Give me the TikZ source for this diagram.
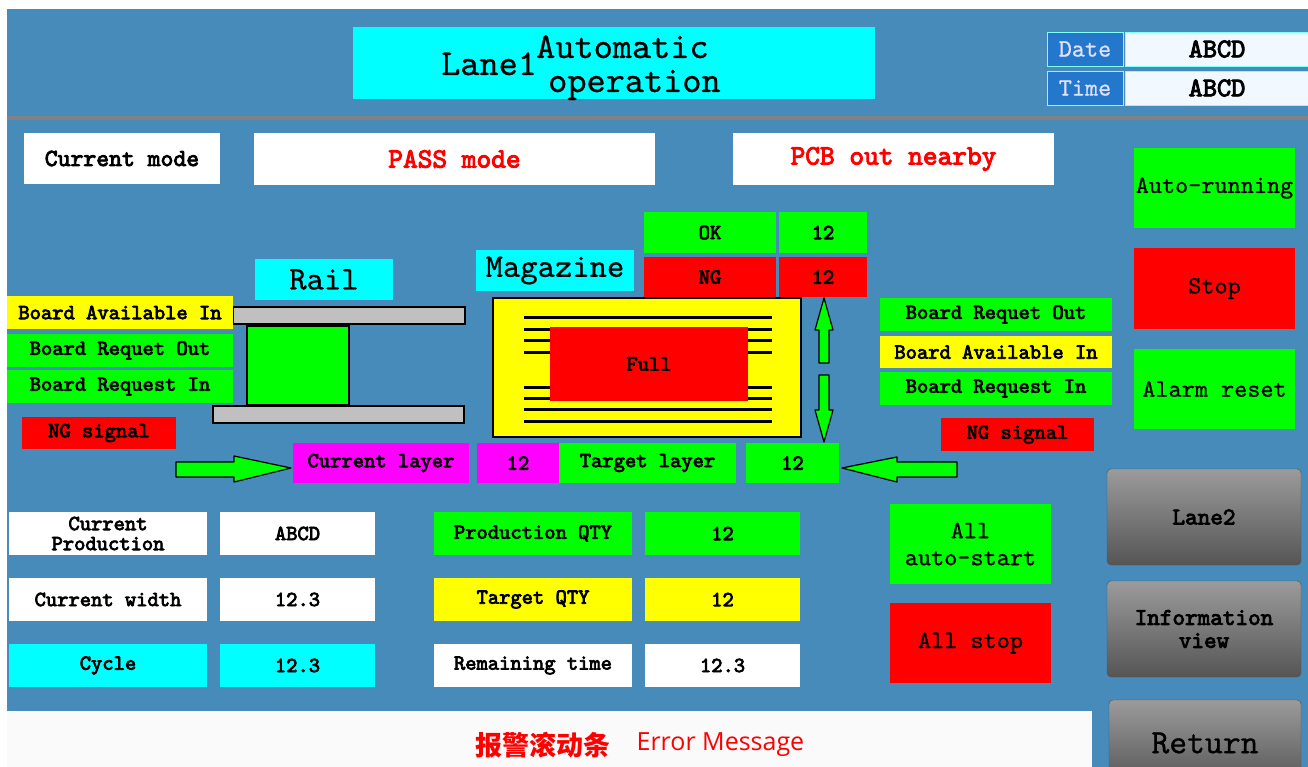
\documentclass[tikz,border=0pt]{standalone}
\usepackage{fontspec}
\newfontfamily\cjkfont{Noto Sans CJK SC}
\newfontfamily\msgfont{Open Sans}
\newfontfamily\hmibold{lmmono10-regular.otf}[FakeBold=3.5]
\newfontfamily\hmithin{lmmono10-regular.otf}[FakeBold=0.7]
\usetikzlibrary{positioning}

\definecolor{hmibg}{RGB}{70,139,185}
\definecolor{hmicyan}{RGB}{0,255,255}
\definecolor{hmigreen}{RGB}{0,255,0}
\definecolor{hmired}{RGB}{255,0,0}
\definecolor{hmiyellow}{RGB}{255,255,0}
\definecolor{hmimagenta}{RGB}{255,0,255}
\definecolor{railgray}{RGB}{192,192,192}
\definecolor{sepgray}{RGB}{130,130,130}
\definecolor{datablue}{RGB}{36,120,204}
\definecolor{valwhite}{RGB}{242,248,255}
\definecolor{errwhite}{RGB}{250,250,250}
\definecolor{btntop}{RGB}{155,155,155}
\definecolor{btnbot}{RGB}{85,85,85}

\newcommand{\lblfont}{\hmibold\fontsize{21.5}{20}\selectfont}
\newcommand{\modefont}{\hmibold\fontsize{24.5}{26}\selectfont}
\newcommand{\redfont}{\hmibold\fontsize{28}{30}\selectfont}
\newcommand{\btnfont}{\hmithin\fontsize{25}{27}\selectfont}
\newcommand{\abcdfont}{\hmibold\fontsize{27}{28}\selectfont}
\newcommand{\titlefont}{\hmithin\fontsize{36.5}{38}\selectfont}
\newcommand{\bigfont}{\hmithin\fontsize{33}{34}\selectfont}
\newcommand{\lanefont}{\hmibold\fontsize{24}{23}\selectfont}
\newcommand{\retfont}{\hmithin\fontsize{34}{34}\selectfont}

\begin{document}
\begin{tikzpicture}[x=1pt, y=-1pt,
    cell/.style={anchor=north west, inner sep=0pt, outer sep=0pt, text=black},
    wh/.style 2 args={minimum width=#1pt, minimum height=#2pt},
    rail/.style={fill=railgray, draw=black, line width=1.5pt},
    blockarrow/.style={fill=hmigreen, draw=black, line width=1.2pt, line join=round},
    greybtn/.style={cell, rounded corners=4pt, top color=btntop, bottom color=btnbot, draw=btnbot}]

    \useasboundingbox (0,0) rectangle (1308,767);
    \clip (0,0) rectangle (1308,767);

    % sfondo
    \fill[white] (0,0) rectangle (1308,767);
    \fill[hmibg] (7,9) rectangle (1308,767);
    \fill[sepgray] (7,116) rectangle (1308,120);

    % titolo
    \node[cell, wh={522}{72}, fill=hmicyan] (title) at (353,27) {};
    \node[anchor=base west, inner sep=0pt, font=\titlefont] (lane) at (441,75) {Lane1};
    \node[anchor=base west, inner sep=0pt, font=\titlefont] (auto) at (536,58) {Automatic};
    \node[anchor=base west, inner sep=0pt, font=\titlefont] (oper) at (548,92) {operation};

    \node[cell, wh={76}{34}, fill=datablue, draw=hmicyan!50!white, text=white!88!blue, font=\btnfont] (date) at (1047,32) {Date};
    \node[cell, wh={184}{34}, fill=valwhite, draw=hmicyan!50!white, font=\abcdfont, right=2pt of date] (dateval) {ABCD};
    \node[cell, wh={76}{34}, fill=datablue, draw=hmicyan!50!white, text=white!88!blue, font=\btnfont, below=5pt of date] (time) {Time};
    \node[cell, wh={184}{34}, fill=valwhite, draw=hmicyan!50!white, font=\abcdfont, right=2pt of time] (timeval) {ABCD};

    % modo
    \node[cell, wh={196}{51}, fill=white, font=\modefont] (mode) at (24,133) {Current mode};
    \node[cell, wh={401}{52}, fill=white, text=hmired, font=\redfont] (pass) at (254,133) {PASS mode};
    \node[cell, wh={321}{52}, fill=white, text=hmired, font=\redfont] (pcb) at (733,133) {PCB out nearby};

    \node[cell, wh={161}{80}, fill=hmigreen, font=\btnfont] (autorun) at (1134,148) {Auto-running};
    \node[cell, wh={161}{81}, fill=hmired, font=\btnfont, below=20pt of autorun] (stop) {Stop};
    \node[cell, wh={161}{80}, fill=hmigreen, font=\btnfont, below=20pt of stop] (reset) {Alarm reset};

    % binario e magazzino
    \node[cell, wh={138}{41}, fill=hmicyan, font=\bigfont] (raillbl) at (255,259) {Rail};
    \node[cell, wh={158}{41}, fill=hmicyan, font=\bigfont] (maglbl) at (476,250) {Magazine};

    \node[cell, wh={132}{41}, fill=hmigreen, font=\lblfont] (ok) at (644,212) {OK};
    \node[cell, wh={88}{41}, fill=hmigreen, font=\lblfont, right=3pt of ok] (okn) {12};
    \node[cell, wh={132}{40}, fill=hmired, font=\lblfont, below=4pt of ok] (ng) {NG};
    \node[cell, wh={88}{40}, fill=hmired, font=\lblfont, right=3pt of ng] (ngn) {12};

    \node[cell, wh={308}{139}, fill=hmiyellow, draw=black, line width=1.5pt] (mag) at (493,298) {};
    \foreach \y in {317,329,340,352,387,398,409,421}
        \draw[line width=3pt] (524,\y) -- (772,\y);
    \node[cell, wh={198}{74}, fill=hmired, font=\lblfont] (full) at (550,327) {Full};

    \draw[blockarrow] (824,298) -- (833,330) -- (829,330) -- (829,363) -- (819,363) -- (819,330) -- (815,330) -- cycle;
    \draw[blockarrow] (824,442) -- (833,410) -- (829,410) -- (829,375) -- (819,375) -- (819,410) -- (815,410) -- cycle;

    \draw[rail] (233,307) rectangle (465,324);
    \node[cell, wh={102}{79}, fill=hmigreen, draw=black, line width=2pt] (board) at (247,326) {};
    \draw[rail] (213,406) rectangle (464,423);

    % segnali
    \node[cell, wh={226}{33}, fill=hmiyellow, font=\lblfont] (lavail) at (7,296) {Board Available In};
    \node[cell, wh={226}{33}, fill=hmigreen, font=\lblfont, below=5pt of lavail] (lreqout) {Board Requet Out};
    \node[cell, wh={226}{33}, fill=hmigreen, font=\lblfont, below=3pt of lreqout] (lreqin) {Board Request In};
    \node[cell, wh={154}{32}, fill=hmired, font=\lblfont] (lng) at (22,417) {NG signal};

    \node[cell, wh={232}{33}, fill=hmigreen, font=\lblfont] (rreqout) at (880,298) {Board Requet Out};
    \node[cell, wh={232}{32}, fill=hmiyellow, font=\lblfont, below=5pt of rreqout] (ravail) {Board Available In};
    \node[cell, wh={232}{33}, fill=hmigreen, font=\lblfont, below=4pt of ravail] (rreqin) {Board Request In};
    \node[cell, wh={153}{33}, fill=hmired, font=\lblfont] (rng) at (941,418) {NG signal};

    % strati
    \node[cell, wh={176}{40}, fill=hmimagenta, font=\lblfont] (curlay) at (293,443) {Current layer};
    \node[cell, wh={82}{40}, fill=hmimagenta, font=\lblfont, right=8pt of curlay] (curlayn) {12};
    \node[cell, wh={177}{40}, fill=hmigreen, font=\lblfont, right=0pt of curlayn] (tarlay) {Target layer};
    \node[cell, wh={93}{40}, fill=hmigreen, font=\lblfont, right=10pt of tarlay] (tarlayn) {12};

    \draw[blockarrow] (176,462) -- (234,462) -- (234,456) -- (291,468) -- (234,482) -- (234,477) -- (176,477) -- cycle;
    \draw[blockarrow] (842,468) -- (897,457) -- (897,462) -- (957,462) -- (957,477) -- (897,477) -- (897,482) -- cycle;

    % produzione
    \node[cell, wh={198}{43}, fill=white, font=\lblfont, align=center] (cprod) at (9,512) {Current\\Production};
    \node[cell, wh={155}{43}, fill=white, font=\lblfont, right=13pt of cprod] (cprodv) {ABCD};
    \node[cell, wh={198}{43}, fill=white, font=\lblfont, below=23pt of cprod] (cwidth) {Current width};
    \node[cell, wh={155}{43}, fill=white, font=\lblfont, right=13pt of cwidth] (cwidthv) {12.3};
    \node[cell, wh={198}{43}, fill=hmicyan, font=\lblfont, below=23pt of cwidth] (cycle) {Cycle};
    \node[cell, wh={155}{43}, fill=hmicyan, font=\lblfont, right=13pt of cycle] (cyclev) {12.3};

    \node[cell, wh={198}{43}, fill=hmigreen, font=\lblfont] (pqty) at (434,512) {Production QTY};
    \node[cell, wh={155}{43}, fill=hmigreen, font=\lblfont, right=13pt of pqty] (pqtyv) {12};
    \node[cell, wh={198}{43}, fill=hmiyellow, font=\lblfont, below=23pt of pqty] (tqty) {Target QTY};
    \node[cell, wh={155}{43}, fill=hmiyellow, font=\lblfont, right=13pt of tqty] (tqtyv) {12};
    \node[cell, wh={198}{43}, fill=white, font=\lblfont, below=23pt of tqty] (rtime) {Remaining time};
    \node[cell, wh={155}{43}, fill=white, font=\lblfont, right=13pt of rtime] (rtimev) {12.3};

    \node[cell, wh={161}{80}, fill=hmigreen, font=\btnfont, align=center] (allstart) at (890,504) {All\\auto-start};
    \node[cell, wh={161}{80}, fill=hmired, font=\btnfont, below=19pt of allstart] (allstop) {All stop};

    % pulsanti
    \node[greybtn, wh={194}{96}, font=\lanefont] (lane2) at (1107,469) {Lane2};
    \node[greybtn, wh={194}{96}, font=\lanefont, align=center, below=16pt of lane2] (info) {Information\\view};
    \node[greybtn, wh={192}{86}, font=\retfont] (ret) at (1109,700) {Return};

    % barra allarmi
    \node[cell, wh={1085}{60}, fill=errwhite] (errbar) at (7,711) {};
    \node[anchor=west, inner sep=0pt, text=hmired, font=\cjkfont\bfseries\fontsize{27}{27}\selectfont] (errcn) at (475,745) {报警滚动条};
    \node[anchor=west, inner sep=0pt, text=hmired, font=\msgfont\fontsize{25}{25}\selectfont, right=26pt of errcn] (errmsg) {Error Message};

\end{tikzpicture}
\end{document}
